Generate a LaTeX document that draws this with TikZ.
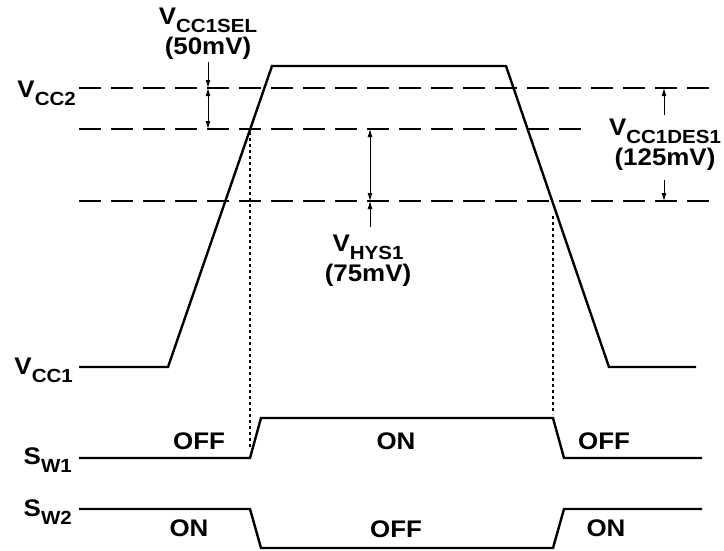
\documentclass[tikz,border=0pt]{standalone}
\usepackage{fontspec}
\setmainfont{Liberation Sans}[FakeStretch=1.08]
\usetikzlibrary{arrows.meta}

\newcommand{\lowsub}[1]{\raisebox{-8pt}{\fontsize{19}{19}\selectfont #1}}

\tikzset{
  wave/.style={line width=2.4pt, line join=miter},
  level/.style={line width=2.6pt, dash pattern=on 22pt off 10pt},
  guide/.style={line width=2.4pt, dash pattern=on 3pt off 3pt},
  dim/.style={line width=0.9pt, -{Latex[length=8pt,width=5pt]}},
  dimboth/.style={dim, {Latex[length=8pt,width=5pt]}-{Latex[length=8pt,width=5pt]}},
  lbl/.style={font=\fontsize{24}{28}\selectfont\bfseries, inner sep=0pt},
}

\begin{document}
\begin{tikzpicture}[x=1pt,y=-1pt]
\useasboundingbox (0,0) rectangle (724,550);

% threshold levels
\coordinate (v2L) at (79,88);   \coordinate (v2R) at (710,88);
\coordinate (vmL) at (79,129);  \coordinate (vmR) at (582,129);
\coordinate (vlL) at (79,201);  \coordinate (vlR) at (710,201);
\draw[level] (v2L) -- (v2R);
\draw[level] (vmL) -- (vmR);
\draw[level] (vlL) -- (vlR);

% VCC1 waveform
\draw[wave] (79,367) -- (168,367) -- (272,66) -- (506,66) -- (609,367) -- (696,367);

% SW1 and SW2
\draw[wave] (79,458) -- (250,458) -- (261,418) -- (553,418) -- (564,458) -- (702,458);
\draw[wave] (79,509) -- (250,509) -- (261,548) -- (553,548) -- (564,509) -- (702,509);

% switching instants
\coordinate (onT) at (250,132);   \coordinate (onB) at (250,447);
\coordinate (offT) at (553,216);  \coordinate (offB) at (553,414);
\draw[guide] (onT) -- (onB);
\draw[guide] (offT) -- (offB);

% signal names
\node[lbl, anchor=base east] (vcc2) at (76,97) {V\lowsub{CC2}};
\node[lbl, anchor=base east] (vcc1) at (73,374) {V\lowsub{CC1}};
\node[lbl, anchor=base east] (sw1) at (72,464) {S\lowsub{W1}};
\node[lbl, anchor=base east] (sw2) at (72,516) {S\lowsub{W2}};

% VCC1SEL
\coordinate (selA) at (208,62);
\coordinate (selB) at (208,88);
\coordinate (selC) at (208,129);
\draw[dim] (selA) -- (selB);
\draw[dimboth] (selB) -- (selC);
\node[lbl, align=center, anchor=north] (selLbl) at (208,8) {V\lowsub{CC1SEL}\\[2pt](50mV)};

% VHYS1
\coordinate (hysA) at (370,129);
\coordinate (hysB) at (370,201);
\coordinate (hysC) at (370,227);
\draw[dimboth] (hysA) -- (hysB);
\draw[dim] (hysC) -- (hysB);
\node[lbl, align=center, anchor=north] (hysLbl) at (368,235) {V\lowsub{HYS1}\\[2pt](75mV)};

% VCC1DES1
\coordinate (desA) at (664,115);
\coordinate (desB) at (664,88);
\coordinate (desC) at (664,180);
\coordinate (desD) at (664,201);
\draw[dim] (desA) -- (desB);
\draw[dim] (desC) -- (desD);
\node[lbl, align=center, anchor=north] (desLbl) at (665,119) {V\lowsub{CC1DES1}\\[2pt](125mV)};

% states
\node[lbl, anchor=base] (s1a) at (199,449) {OFF};
\node[lbl, anchor=base] (s1b) at (396,449) {ON};
\node[lbl, anchor=base] (s1c) at (604,449) {OFF};
\node[lbl, anchor=base] (s2a) at (189,536) {ON};
\node[lbl, anchor=base] (s2b) at (396,537) {OFF};
\node[lbl, anchor=base] (s2c) at (606,536) {ON};
\end{tikzpicture}
\end{document}
